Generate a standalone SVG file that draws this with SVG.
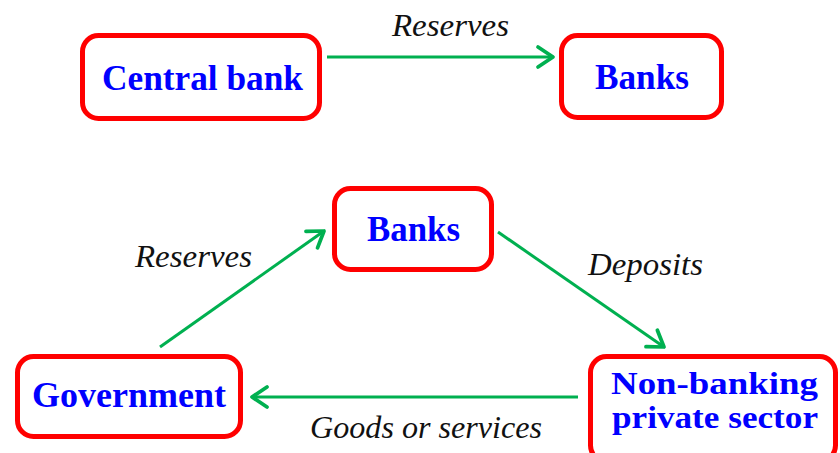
<svg xmlns="http://www.w3.org/2000/svg" width="840" height="453" viewBox="0 0 840 453">
  <style>
    text { font-family: "Liberation Serif", "Tinos", "Times New Roman", "Noto Serif", "DejaVu Serif", "FreeSerif", serif; }
    .box { fill: #FFFFFF; stroke: #FF0000; stroke-width: 5; }
    .nl { font-weight: bold; font-size: 35px; fill: #0000FF; }
    .nl2 { font-weight: bold; font-size: 31px; fill: #0000FF; }
    .el { font-style: italic; font-size: 32px; fill: #111111; }
    .conn { stroke: #00B050; stroke-width: 3; fill: none; marker-end: url(#arr); }
  </style>
  <defs>
    <marker id="arr" markerUnits="userSpaceOnUse" markerWidth="30" markerHeight="30" refX="0" refY="0" viewBox="-16 -12 20 24" orient="auto">
      <path d="M-12,-8 L0,0 L-12,8" fill="none" stroke="#00B050" stroke-width="3" stroke-linecap="round" stroke-linejoin="round"/>
    </marker>
  </defs>
  <rect width="840" height="453" fill="#FFFFFF"/>

  <g id="connectors">
    <line class="conn" x1="327" y1="57" x2="553" y2="57"/>
    <line class="conn" x1="160" y1="347" x2="324" y2="231"/>
    <line class="conn" x1="498" y1="232" x2="664" y2="347"/>
    <line class="conn" x1="578" y1="397" x2="252" y2="397"/>
    <text class="el" x="392" y="36" textLength="117" lengthAdjust="spacingAndGlyphs">Reserves</text>
    <text class="el" x="135" y="267" textLength="117" lengthAdjust="spacingAndGlyphs">Reserves</text>
    <text class="el" x="588" y="275" textLength="115" lengthAdjust="spacingAndGlyphs">Deposits</text>
    <text class="el" x="310" y="438" textLength="232" lengthAdjust="spacingAndGlyphs">Goods or services</text>
  </g>

  <g id="central-bank">
    <rect class="box" x="82.5" y="35.5" width="237" height="83" rx="16"/>
    <text class="nl" x="102" y="90" textLength="201" lengthAdjust="spacingAndGlyphs">Central bank</text>
  </g>
  <g id="banks-top">
    <rect class="box" x="561.5" y="35.5" width="160" height="82" rx="16"/>
    <text class="nl" x="595" y="89" textLength="94" lengthAdjust="spacingAndGlyphs">Banks</text>
  </g>
  <g id="banks">
    <rect class="box" x="334.5" y="188.5" width="157" height="81" rx="16"/>
    <text class="nl" x="367" y="241" textLength="93" lengthAdjust="spacingAndGlyphs">Banks</text>
  </g>
  <g id="government">
    <rect class="box" x="17.5" y="356.5" width="223" height="80" rx="16"/>
    <text class="nl" x="32" y="407" textLength="194" lengthAdjust="spacingAndGlyphs">Government</text>
  </g>
  <g id="non-banking">
    <rect class="box" x="590.5" y="356.5" width="245" height="105" rx="16"/>
    <text class="nl2" x="611" y="394" textLength="207" lengthAdjust="spacingAndGlyphs">Non-banking</text>
    <text class="nl2" x="612" y="428" textLength="206" lengthAdjust="spacingAndGlyphs">private sector</text>
  </g>
</svg>
